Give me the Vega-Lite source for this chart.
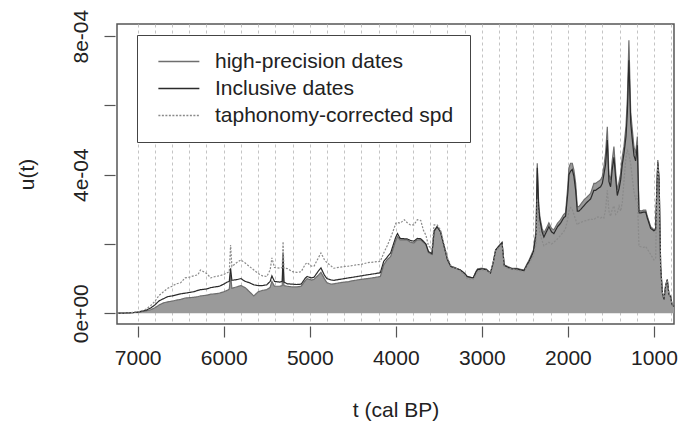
{
  "$schema": "https://vega.github.io/schema/vega-lite/v6.json",
  "width": 557,
  "height": 300,
  "autosize": {"type": "none"},
  "padding": {"left": 117, "top": 24, "right": 15, "bottom": 106},
  "background": "white",
  "config": {
    "view": {"stroke": "#555555", "strokeWidth": 1.5},
    "font": "Liberation Sans"
  },
  "data": {
    "values": [
      {"t":7240,"hp":0,"incl":0,"taph":0},
      {"t":7100,"hp":0.01e-4,"incl":0.01e-4,"taph":0.01e-4},
      {"t":7000,"hp":0.03e-4,"incl":0.03e-4,"taph":0.04e-4},
      {"t":6950,"hp":0.05e-4,"incl":0.06e-4,"taph":0.07e-4},
      {"t":6900,"hp":0.07e-4,"incl":0.09e-4,"taph":0.12e-4},
      {"t":6850,"hp":0.10e-4,"incl":0.15e-4,"taph":0.22e-4},
      {"t":6800,"hp":0.16e-4,"incl":0.24e-4,"taph":0.34e-4},
      {"t":6750,"hp":0.24e-4,"incl":0.36e-4,"taph":0.52e-4},
      {"t":6700,"hp":0.30e-4,"incl":0.42e-4,"taph":0.62e-4},
      {"t":6650,"hp":0.33e-4,"incl":0.48e-4,"taph":0.72e-4},
      {"t":6600,"hp":0.35e-4,"incl":0.50e-4,"taph":0.78e-4},
      {"t":6550,"hp":0.38e-4,"incl":0.53e-4,"taph":0.85e-4},
      {"t":6500,"hp":0.40e-4,"incl":0.56e-4,"taph":0.88e-4},
      {"t":6450,"hp":0.44e-4,"incl":0.58e-4,"taph":1.02e-4},
      {"t":6400,"hp":0.45e-4,"incl":0.60e-4,"taph":1.04e-4},
      {"t":6350,"hp":0.46e-4,"incl":0.62e-4,"taph":1.08e-4},
      {"t":6300,"hp":0.48e-4,"incl":0.66e-4,"taph":1.11e-4},
      {"t":6270,"hp":0.50e-4,"incl":0.68e-4,"taph":1.25e-4},
      {"t":6200,"hp":0.52e-4,"incl":0.70e-4,"taph":1.15e-4},
      {"t":6150,"hp":0.55e-4,"incl":0.74e-4,"taph":1.02e-4},
      {"t":6100,"hp":0.56e-4,"incl":0.76e-4,"taph":1.06e-4},
      {"t":6050,"hp":0.58e-4,"incl":0.78e-4,"taph":1.08e-4},
      {"t":6000,"hp":0.62e-4,"incl":0.84e-4,"taph":1.12e-4},
      {"t":5960,"hp":0.66e-4,"incl":0.90e-4,"taph":1.17e-4},
      {"t":5935,"hp":0.70e-4,"incl":0.92e-4,"taph":1.20e-4},
      {"t":5920,"hp":1.10e-4,"incl":1.30e-4,"taph":1.97e-4},
      {"t":5905,"hp":0.72e-4,"incl":0.95e-4,"taph":1.35e-4},
      {"t":5880,"hp":0.74e-4,"incl":0.96e-4,"taph":1.40e-4},
      {"t":5850,"hp":0.76e-4,"incl":0.97e-4,"taph":1.46e-4},
      {"t":5800,"hp":0.80e-4,"incl":1.00e-4,"taph":1.54e-4},
      {"t":5750,"hp":0.74e-4,"incl":0.92e-4,"taph":1.45e-4},
      {"t":5700,"hp":0.62e-4,"incl":0.88e-4,"taph":1.35e-4},
      {"t":5650,"hp":0.50e-4,"incl":0.82e-4,"taph":1.25e-4},
      {"t":5600,"hp":0.62e-4,"incl":0.80e-4,"taph":1.15e-4},
      {"t":5550,"hp":0.66e-4,"incl":0.80e-4,"taph":1.08e-4},
      {"t":5500,"hp":0.68e-4,"incl":0.82e-4,"taph":1.06e-4},
      {"t":5460,"hp":0.75e-4,"incl":0.92e-4,"taph":1.25e-4},
      {"t":5440,"hp":0.92e-4,"incl":1.08e-4,"taph":1.60e-4},
      {"t":5410,"hp":0.78e-4,"incl":0.92e-4,"taph":1.32e-4},
      {"t":5350,"hp":0.78e-4,"incl":0.90e-4,"taph":1.30e-4},
      {"t":5320,"hp":0.80e-4,"incl":0.92e-4,"taph":1.32e-4},
      {"t":5310,"hp":1.50e-4,"incl":1.75e-4,"taph":2.07e-4},
      {"t":5300,"hp":0.80e-4,"incl":0.90e-4,"taph":1.30e-4},
      {"t":5260,"hp":0.78e-4,"incl":0.85e-4,"taph":1.29e-4},
      {"t":5200,"hp":0.76e-4,"incl":0.84e-4,"taph":1.20e-4},
      {"t":5150,"hp":0.76e-4,"incl":0.83e-4,"taph":1.18e-4},
      {"t":5100,"hp":0.78e-4,"incl":0.84e-4,"taph":1.20e-4},
      {"t":5050,"hp":0.95e-4,"incl":1.02e-4,"taph":1.42e-4},
      {"t":5030,"hp":1.00e-4,"incl":1.06e-4,"taph":1.46e-4},
      {"t":4980,"hp":0.96e-4,"incl":1.02e-4,"taph":1.36e-4},
      {"t":4950,"hp":0.98e-4,"incl":1.04e-4,"taph":1.36e-4},
      {"t":4900,"hp":1.10e-4,"incl":1.22e-4,"taph":1.60e-4},
      {"t":4870,"hp":1.18e-4,"incl":1.31e-4,"taph":1.74e-4},
      {"t":4830,"hp":1.00e-4,"incl":1.10e-4,"taph":1.55e-4},
      {"t":4800,"hp":0.88e-4,"incl":1.00e-4,"taph":1.46e-4},
      {"t":4750,"hp":0.84e-4,"incl":0.96e-4,"taph":1.36e-4},
      {"t":4720,"hp":0.85e-4,"incl":0.95e-4,"taph":1.30e-4},
      {"t":4650,"hp":0.88e-4,"incl":0.98e-4,"taph":1.33e-4},
      {"t":4600,"hp":0.90e-4,"incl":1.00e-4,"taph":1.35e-4},
      {"t":4550,"hp":0.91e-4,"incl":1.02e-4,"taph":1.36e-4},
      {"t":4500,"hp":0.94e-4,"incl":1.04e-4,"taph":1.38e-4},
      {"t":4450,"hp":0.96e-4,"incl":1.06e-4,"taph":1.40e-4},
      {"t":4400,"hp":0.98e-4,"incl":1.08e-4,"taph":1.41e-4},
      {"t":4330,"hp":1.00e-4,"incl":1.11e-4,"taph":1.46e-4},
      {"t":4250,"hp":1.03e-4,"incl":1.14e-4,"taph":1.48e-4},
      {"t":4180,"hp":1.06e-4,"incl":1.17e-4,"taph":1.50e-4},
      {"t":4140,"hp":1.40e-4,"incl":1.50e-4,"taph":1.74e-4},
      {"t":4100,"hp":1.55e-4,"incl":1.62e-4,"taph":1.95e-4},
      {"t":4060,"hp":1.64e-4,"incl":1.74e-4,"taph":2.18e-4},
      {"t":4020,"hp":1.95e-4,"incl":2.05e-4,"taph":2.45e-4},
      {"t":4000,"hp":2.10e-4,"incl":2.20e-4,"taph":2.60e-4},
      {"t":3980,"hp":2.21e-4,"incl":2.30e-4,"taph":2.62e-4},
      {"t":3950,"hp":2.12e-4,"incl":2.16e-4,"taph":2.60e-4},
      {"t":3900,"hp":2.12e-4,"incl":2.15e-4,"taph":2.70e-4},
      {"t":3870,"hp":2.12e-4,"incl":2.15e-4,"taph":2.62e-4},
      {"t":3830,"hp":2.05e-4,"incl":2.10e-4,"taph":2.55e-4},
      {"t":3790,"hp":2.03e-4,"incl":2.08e-4,"taph":2.55e-4},
      {"t":3750,"hp":2.12e-4,"incl":2.16e-4,"taph":2.70e-4},
      {"t":3710,"hp":2.12e-4,"incl":2.15e-4,"taph":2.68e-4},
      {"t":3680,"hp":2.05e-4,"incl":2.08e-4,"taph":2.40e-4},
      {"t":3650,"hp":1.98e-4,"incl":2.00e-4,"taph":2.25e-4},
      {"t":3620,"hp":1.75e-4,"incl":1.78e-4,"taph":1.95e-4},
      {"t":3580,"hp":1.70e-4,"incl":1.72e-4,"taph":1.85e-4},
      {"t":3555,"hp":2.35e-4,"incl":2.38e-4,"taph":2.55e-4},
      {"t":3520,"hp":2.50e-4,"incl":2.50e-4,"taph":2.55e-4},
      {"t":3480,"hp":2.35e-4,"incl":2.35e-4,"taph":2.40e-4},
      {"t":3440,"hp":1.95e-4,"incl":1.95e-4,"taph":2.00e-4},
      {"t":3400,"hp":1.55e-4,"incl":1.55e-4,"taph":1.60e-4},
      {"t":3360,"hp":1.35e-4,"incl":1.35e-4,"taph":1.38e-4},
      {"t":3300,"hp":1.30e-4,"incl":1.30e-4,"taph":1.30e-4},
      {"t":3250,"hp":1.25e-4,"incl":1.25e-4,"taph":1.22e-4},
      {"t":3200,"hp":1.15e-4,"incl":1.15e-4,"taph":1.10e-4},
      {"t":3170,"hp":1.06e-4,"incl":1.06e-4,"taph":1.00e-4},
      {"t":3100,"hp":1.02e-4,"incl":1.02e-4,"taph":0.98e-4},
      {"t":3070,"hp":1.20e-4,"incl":1.18e-4,"taph":1.10e-4},
      {"t":3050,"hp":1.28e-4,"incl":1.26e-4,"taph":1.20e-4},
      {"t":3000,"hp":1.30e-4,"incl":1.28e-4,"taph":1.25e-4},
      {"t":2950,"hp":1.28e-4,"incl":1.26e-4,"taph":1.24e-4},
      {"t":2900,"hp":1.17e-4,"incl":1.16e-4,"taph":1.16e-4},
      {"t":2870,"hp":1.45e-4,"incl":1.44e-4,"taph":1.44e-4},
      {"t":2840,"hp":1.83e-4,"incl":1.82e-4,"taph":1.80e-4},
      {"t":2800,"hp":1.95e-4,"incl":1.94e-4,"taph":1.90e-4},
      {"t":2765,"hp":2.05e-4,"incl":2.03e-4,"taph":2.00e-4},
      {"t":2740,"hp":1.40e-4,"incl":1.38e-4,"taph":1.35e-4},
      {"t":2700,"hp":1.35e-4,"incl":1.33e-4,"taph":1.30e-4},
      {"t":2650,"hp":1.30e-4,"incl":1.28e-4,"taph":1.28e-4},
      {"t":2600,"hp":1.30e-4,"incl":1.28e-4,"taph":1.25e-4},
      {"t":2550,"hp":1.27e-4,"incl":1.25e-4,"taph":1.22e-4},
      {"t":2510,"hp":1.25e-4,"incl":1.23e-4,"taph":1.20e-4},
      {"t":2470,"hp":1.45e-4,"incl":1.42e-4,"taph":1.38e-4},
      {"t":2450,"hp":1.54e-4,"incl":1.50e-4,"taph":1.45e-4},
      {"t":2400,"hp":1.83e-4,"incl":1.78e-4,"taph":1.68e-4},
      {"t":2370,"hp":2.40e-4,"incl":2.30e-4,"taph":2.00e-4},
      {"t":2356,"hp":4.33e-4,"incl":4.20e-4,"taph":3.30e-4},
      {"t":2340,"hp":3.20e-4,"incl":3.05e-4,"taph":2.60e-4},
      {"t":2326,"hp":2.79e-4,"incl":2.70e-4,"taph":2.30e-4},
      {"t":2300,"hp":2.45e-4,"incl":2.35e-4,"taph":2.10e-4},
      {"t":2279,"hp":2.32e-4,"incl":2.20e-4,"taph":1.95e-4},
      {"t":2250,"hp":2.45e-4,"incl":2.35e-4,"taph":2.00e-4},
      {"t":2221,"hp":2.61e-4,"incl":2.50e-4,"taph":2.05e-4},
      {"t":2190,"hp":2.45e-4,"incl":2.35e-4,"taph":2.00e-4},
      {"t":2163,"hp":2.41e-4,"incl":2.30e-4,"taph":2.05e-4},
      {"t":2120,"hp":2.60e-4,"incl":2.50e-4,"taph":2.15e-4},
      {"t":2085,"hp":2.70e-4,"incl":2.60e-4,"taph":2.25e-4},
      {"t":2050,"hp":2.85e-4,"incl":2.75e-4,"taph":2.35e-4},
      {"t":2027,"hp":2.90e-4,"incl":2.80e-4,"taph":2.45e-4},
      {"t":2000,"hp":3.70e-4,"incl":3.50e-4,"taph":2.75e-4},
      {"t":1988,"hp":4.20e-4,"incl":4.00e-4,"taph":2.95e-4},
      {"t":1969,"hp":4.33e-4,"incl":4.10e-4,"taph":3.05e-4},
      {"t":1949,"hp":4.33e-4,"incl":4.15e-4,"taph":3.00e-4},
      {"t":1930,"hp":4.13e-4,"incl":3.95e-4,"taph":2.85e-4},
      {"t":1910,"hp":3.75e-4,"incl":3.55e-4,"taph":2.70e-4},
      {"t":1891,"hp":3.08e-4,"incl":2.95e-4,"taph":2.55e-4},
      {"t":1872,"hp":3.08e-4,"incl":2.95e-4,"taph":2.60e-4},
      {"t":1850,"hp":3.15e-4,"incl":3.00e-4,"taph":2.62e-4},
      {"t":1814,"hp":3.27e-4,"incl":3.10e-4,"taph":2.66e-4},
      {"t":1780,"hp":3.35e-4,"incl":3.20e-4,"taph":2.68e-4},
      {"t":1736,"hp":3.46e-4,"incl":3.30e-4,"taph":2.72e-4},
      {"t":1698,"hp":3.75e-4,"incl":3.55e-4,"taph":2.70e-4},
      {"t":1678,"hp":3.75e-4,"incl":3.55e-4,"taph":2.75e-4},
      {"t":1650,"hp":3.80e-4,"incl":3.60e-4,"taph":2.78e-4},
      {"t":1620,"hp":3.85e-4,"incl":3.65e-4,"taph":2.75e-4},
      {"t":1600,"hp":3.95e-4,"incl":3.75e-4,"taph":2.78e-4},
      {"t":1582,"hp":4.23e-4,"incl":4.00e-4,"taph":2.75e-4},
      {"t":1562,"hp":4.62e-4,"incl":4.30e-4,"taph":3.00e-4},
      {"t":1542,"hp":5.38e-4,"incl":5.00e-4,"taph":3.55e-4},
      {"t":1523,"hp":4.00e-4,"incl":3.80e-4,"taph":2.95e-4},
      {"t":1504,"hp":3.85e-4,"incl":3.65e-4,"taph":2.80e-4},
      {"t":1485,"hp":4.40e-4,"incl":4.15e-4,"taph":3.00e-4},
      {"t":1465,"hp":4.81e-4,"incl":4.50e-4,"taph":3.10e-4},
      {"t":1445,"hp":4.10e-4,"incl":3.90e-4,"taph":2.85e-4},
      {"t":1426,"hp":3.56e-4,"incl":3.40e-4,"taph":2.90e-4},
      {"t":1405,"hp":3.80e-4,"incl":3.60e-4,"taph":3.10e-4},
      {"t":1387,"hp":4.04e-4,"incl":3.85e-4,"taph":2.95e-4},
      {"t":1368,"hp":4.52e-4,"incl":4.30e-4,"taph":3.20e-4},
      {"t":1349,"hp":4.81e-4,"incl":4.60e-4,"taph":3.80e-4},
      {"t":1325,"hp":5.40e-4,"incl":5.10e-4,"taph":4.50e-4},
      {"t":1309,"hp":6.20e-4,"incl":5.80e-4,"taph":4.70e-4},
      {"t":1291,"hp":7.88e-4,"incl":7.30e-4,"taph":4.60e-4},
      {"t":1270,"hp":5.80e-4,"incl":5.50e-4,"taph":4.30e-4},
      {"t":1251,"hp":5.29e-4,"incl":5.00e-4,"taph":3.90e-4},
      {"t":1232,"hp":4.80e-4,"incl":4.55e-4,"taph":3.50e-4},
      {"t":1213,"hp":4.62e-4,"incl":4.40e-4,"taph":3.30e-4},
      {"t":1193,"hp":5.10e-4,"incl":4.85e-4,"taph":3.40e-4},
      {"t":1174,"hp":2.98e-4,"incl":2.90e-4,"taph":1.93e-4},
      {"t":1150,"hp":2.95e-4,"incl":2.90e-4,"taph":1.92e-4},
      {"t":1120,"hp":2.98e-4,"incl":2.92e-4,"taph":1.90e-4},
      {"t":1096,"hp":2.98e-4,"incl":2.92e-4,"taph":1.93e-4},
      {"t":1077,"hp":2.80e-4,"incl":2.75e-4,"taph":1.85e-4},
      {"t":1038,"hp":2.50e-4,"incl":2.45e-4,"taph":1.70e-4},
      {"t":1000,"hp":2.41e-4,"incl":2.38e-4,"taph":1.54e-4},
      {"t":980,"hp":2.45e-4,"incl":2.42e-4,"taph":1.60e-4},
      {"t":965,"hp":3.80e-4,"incl":3.75e-4,"taph":3.70e-4},
      {"t":955,"hp":4.42e-4,"incl":4.35e-4,"taph":4.33e-4},
      {"t":940,"hp":3.90e-4,"incl":3.85e-4,"taph":3.80e-4},
      {"t":922,"hp":1.35e-4,"incl":1.35e-4,"taph":1.30e-4},
      {"t":902,"hp":0.60e-4,"incl":0.60e-4,"taph":0.60e-4},
      {"t":884,"hp":0.39e-4,"incl":0.39e-4,"taph":0.39e-4},
      {"t":864,"hp":0.80e-4,"incl":0.80e-4,"taph":0.80e-4},
      {"t":845,"hp":0.97e-4,"incl":0.97e-4,"taph":0.95e-4},
      {"t":826,"hp":0.55e-4,"incl":0.55e-4,"taph":0.55e-4},
      {"t":806,"hp":0.48e-4,"incl":0.48e-4,"taph":0.48e-4},
      {"t":790,"hp":0.25e-4,"incl":0.25e-4,"taph":0.25e-4},
      {"t":767,"hp":0.20e-4,"incl":0.20e-4,"taph":0.20e-4}
    ]
  },
  "encoding": {
    "x": {
      "field": "t",
      "type": "quantitative",
      "scale": {"domain": [767, 7240], "reverse": true, "nice": false, "zero": false},
      "axis": {
        "values": [7000,6800,6600,6400,6200,6000,5800,5600,5400,5200,5000,4800,4600,4400,4200,4000,3800,3600,3400,3200,3000,2800,2600,2400,2200,2000,1800,1600,1400,1200,1000,800],
        "grid": true,
        "gridDash": [3, 3],
        "gridColor": "#c4c4c4",
        "gridWidth": 1,
        "domain": false,
        "offset": 2,
        "tickSize": 11,
        "tickWidth": 1.2,
        "tickColor": "#555555",
        "tickOpacity": {"condition": {"test": "datum.value % 1000 === 0", "value": 1}, "value": 0},
        "labelExpr": "datum.value % 1000 === 0 ? '' + datum.value : ''",
        "labelFontSize": 21,
        "labelColor": "#222222",
        "labelPadding": 10,
        "labelFlush": false,
        "labelOverlap": false,
        "title": "t (cal BP)",
        "titleFontSize": 21,
        "titleFontWeight": "normal",
        "titleColor": "#222222",
        "titlePadding": 31
      }
    }
  },
  "layer": [
    {
      "mark": {"type": "area", "color": "#9a9a9a", "interpolate": "linear"},
      "encoding": {
        "y": {
          "field": "hp",
          "type": "quantitative",
          "scale": {"domain": [-3.1e-5, 8.35e-4], "nice": false, "zero": false},
          "axis": {
            "values": [0, 2e-4, 4e-4, 6e-4, 8e-4],
            "labelExpr": "abs(datum.value) < 1e-10 ? '0e+00' : (abs(datum.value - 4e-4) < 1e-10 ? '4e-04' : (abs(datum.value - 8e-4) < 1e-10 ? '8e-04' : ''))",
            "grid": false,
            "domain": false,
            "offset": 2,
            "tickSize": 11,
            "tickWidth": 1.2,
            "tickColor": "#555555",
            "labelAngle": -90,
            "labelAlign": "center",
            "labelBaseline": "alphabetic",
            "labelPadding": 17,
            "labelFontSize": 21,
            "labelColor": "#222222",
            "labelOverlap": false,
            "title": "u(t)",
            "titleFontSize": 21,
            "titleFontWeight": "normal",
            "titleColor": "#222222",
            "titlePadding": 33
          }
        }
      }
    },
    {
      "mark": {"type": "rule", "color": "#6a6a6a", "strokeWidth": 2},
      "encoding": {"y": {"datum": 0}}
    },
    {
      "transform": [{"fold": ["hp", "incl", "taph"], "as": ["series", "u"]}],
      "mark": {"type": "line", "strokeWidth": 1.2, "interpolate": "linear"},
      "encoding": {
        "y": {"field": "u", "type": "quantitative"},
        "color": {
          "field": "series",
          "type": "nominal",
          "scale": {"domain": ["hp", "incl", "taph"], "range": ["#6e6e6e", "#2b2b2b", "#8a8a8a"]},
          "legend": {
            "orient": "none",
            "legendX": 20,
            "legendY": 11,
            "title": null,
            "strokeColor": "#444444",
            "fillColor": "white",
            "padding": 16,
            "labelFontSize": 21,
            "labelColor": "#222222",
            "labelLimit": 500,
            "symbolType": "M-1,0H7",
            "symbolSize": 105,
            "symbolStrokeWidth": 1.5,
            "rowPadding": 5,
            "labelOffset": 41,
            "labelExpr": "datum.label === 'hp' ? 'high-precision dates' : (datum.label === 'incl' ? 'Inclusive dates' : 'taphonomy-corrected spd')"
          }
        },
        "strokeDash": {
          "field": "series",
          "type": "nominal",
          "scale": {"domain": ["hp", "incl", "taph"], "range": [[1, 0], [1, 0], [2, 1.5]]},
          "legend": {
            "orient": "none",
            "legendX": 20,
            "legendY": 11,
            "title": null,
            "strokeColor": "#444444",
            "fillColor": "white",
            "padding": 16,
            "labelFontSize": 21,
            "labelColor": "#222222",
            "labelLimit": 500,
            "symbolType": "M-1,0H7",
            "symbolSize": 105,
            "symbolStrokeWidth": 1.5,
            "rowPadding": 5,
            "labelOffset": 41,
            "labelExpr": "datum.label === 'hp' ? 'high-precision dates' : (datum.label === 'incl' ? 'Inclusive dates' : 'taphonomy-corrected spd')"
          }
        }
      }
    }
  ]
}
